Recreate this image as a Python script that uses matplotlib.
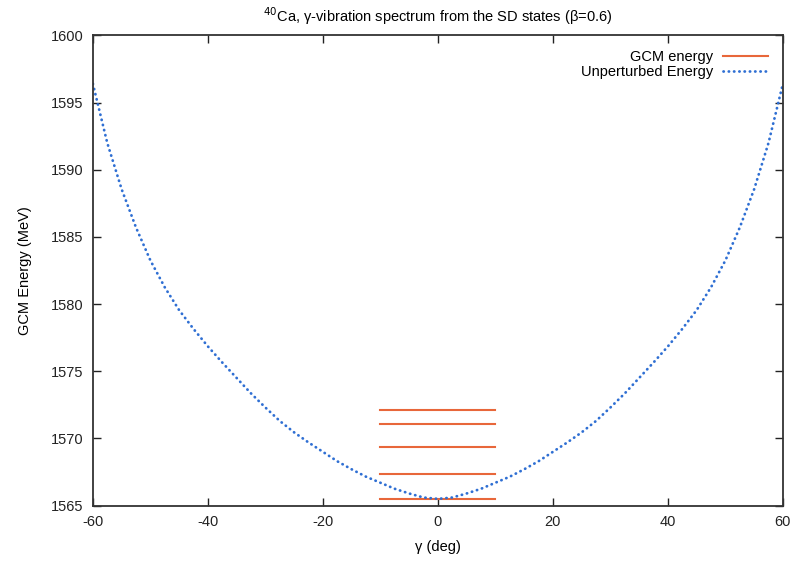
import numpy as np
import matplotlib.pyplot as plt

plt.rcParams['font.family'] = ['Liberation Sans', 'DejaVu Sans']
plt.rcParams['axes.unicode_minus'] = False

# GCM energy levels (MeV), drawn between gamma = -10 and 10 deg
gcm_levels = [1565.5, 1567.35, 1569.37, 1571.1, 1572.15]
gcm_xmin, gcm_xmax = -10, 10

# unperturbed energy curve (symmetric in gamma)
gamma_half = [0, 2.5, 5, 7.5, 10, 12.5, 15, 17.5, 20, 22.5, 25, 27.5, 30,
              32.5, 35, 37.5, 40, 42.5, 45, 47.5, 50, 52.5, 55, 57.5, 60]
e_half = [1565.50, 1565.60, 1565.90, 1566.25, 1566.70, 1567.15, 1567.70,
          1568.30, 1569.00, 1569.70, 1570.45, 1571.30, 1572.30, 1573.35,
          1574.50, 1575.65, 1576.85, 1578.15, 1579.55, 1581.25, 1583.25,
          1585.70, 1588.55, 1592.00, 1596.40]

gamma = np.concatenate([-np.array(gamma_half[:0:-1]), gamma_half])
energy = np.concatenate([e_half[:0:-1], e_half])

fs = 10.5
fig = plt.figure(figsize=(7.94, 5.63), dpi=100)
ax = fig.add_axes([0.117, 0.102, 0.869, 0.835])

for i, e in enumerate(gcm_levels):
    ax.plot([gcm_xmin, gcm_xmax], [e, e], color='#e8673a', lw=1.5,
            label='GCM energy' if i == 0 else None)
ax.plot(gamma, energy, color='#2f6fd3', lw=2.0, linestyle=(0, (0.1, 1.8)),
        dash_capstyle='round', label='Unperturbed Energy')

ax.set_xlim(-60, 60)
ax.set_ylim(1565, 1600)
ax.set_xticks(range(-60, 61, 20))
ax.set_yticks(range(1565, 1601, 5))
ax.tick_params(direction='in', length=6, width=1, top=True, right=True,
               labelsize=fs, colors='#222222', pad=7)
for s in ax.spines.values():
    s.set_linewidth(1.3)
    s.set_color('#333333')

ax.set_xlabel('γ (deg)', fontsize=fs, labelpad=8)
ax.set_ylabel('GCM Energy (MeV)', fontsize=fs, labelpad=13)
ax.set_title('$^{40}$Ca, γ-vibration spectrum from the SD states (β=0.6)',
             fontsize=fs, pad=10)

ax.legend(loc='upper right', markerfirst=False, frameon=False, fontsize=fs,
          handlelength=3.1, borderaxespad=0.8, labelspacing=0.05,
          handletextpad=0.7, borderpad=0.2)

fig.savefig('out.png', dpi=100)
